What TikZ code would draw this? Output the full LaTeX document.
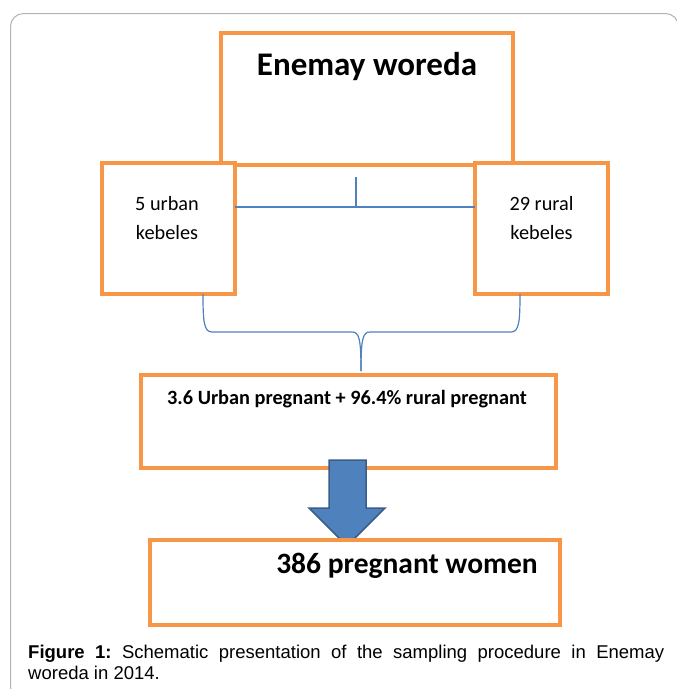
\documentclass[tikz,border=0pt]{standalone}
\usepackage{fontspec}
\setmainfont{Carlito}
\newfontfamily\capfont{Liberation Sans}
\definecolor{boxorange}{HTML}{F79646}
\definecolor{lineblue}{HTML}{4F81BD}
\definecolor{arrowedge}{HTML}{385D8A}
\definecolor{framegray}{HTML}{B4B4B4}
\frenchspacing
\begin{document}
\begin{tikzpicture}[x=1pt,y=-1pt,
  obox/.style={draw=boxorange,line width=3.2pt,fill=white,inner sep=0pt,outer sep=0pt,rectangle},
  bline/.style={draw=lineblue,line width=1.2pt},
  txt/.style={inner sep=0pt,anchor=base,text=black}]
\useasboundingbox (0,0) rectangle (677,689);
\fill[white] (0,0) rectangle (677,689);
% frame
\draw[framegray,line width=1pt,rounded corners=13pt] (10.5,13.5) rectangle (678.5,700);
% top box
\node[obox,minimum width=292pt,minimum height=132pt] (top) at (367,99) {};
\node[txt,font=\fontsize{33}{37}\selectfont\bfseries] (toptxt) at (367,75) {Enemay woreda};
% side boxes
\node[obox,minimum width=133pt,minimum height=131pt] (left) at (168.5,228.5) {};
\node[obox,minimum width=133pt,minimum height=131pt] (right) at (541.5,228.5) {};
\draw[bline] (left.east |- 0,207) -- (right.west |- 0,207);
\coordinate (tick) at (356,177);
\draw[bline] (tick) -- (356,207);
\node[txt,font=\fontsize{20.3}{24}\selectfont] (l1) at (167,210) {5 urban};
\node[txt,font=\fontsize{20.3}{24}\selectfont] (l2) at (167,239) {kebeles};
\node[txt,font=\fontsize{20.3}{24}\selectfont] (r1) at (541.5,210) {29 rural};
\node[txt,font=\fontsize{20.3}{24}\selectfont] (r2) at (541.5,239) {kebeles};
% brace
\coordinate (bl) at (203,294);
\coordinate (br) at (520,294);
\coordinate (btip) at (361,371);
\draw[bline] (bl) .. controls (203,322) and (204,332) .. (212,332) -- (352,332)
  .. controls (359,332) and (361,338) .. (btip);
\draw[bline] (br) .. controls (520,322) and (519,332) .. (511,332) -- (370,332)
  .. controls (363,332) and (361,338) .. (btip);
% middle box
\node[obox,minimum width=415pt,minimum height=93pt] (mid) at (348.5,421.5) {};
\node[txt,font=\fontsize{20.3}{24}\selectfont\bfseries] (midtxt) at (347,404) {3.6 Urban pregnant + 96.4\% rural pregnant};
% arrow
\draw[draw=arrowedge,fill=lineblue,line width=1.5pt,line join=miter]
  (329,460) -- (366,460) -- (366,508) -- (385,508) -- (347,546) -- (309,508) -- (329,508) -- cycle;
% bottom box
\node[obox,minimum width=410pt,minimum height=85pt] (bot) at (355,582.5) {};
\node[txt,font=\fontsize{29.5}{33}\selectfont\bfseries] (bottxt) at (407,573) {386 pregnant women};
% caption
\node[inner sep=0pt,anchor=base west,font=\capfont\fontsize{18.5}{21}\selectfont] (cap1) at (28,658)
  {\makebox[636pt][s]{\textbf{Figure 1:} Schematic presentation of the sampling procedure in Enemay}};
\node[inner sep=0pt,anchor=base west,font=\capfont\fontsize{18.5}{21}\selectfont] (cap2) at (28,679)
  {woreda in 2014.};
\end{tikzpicture}
\end{document}
